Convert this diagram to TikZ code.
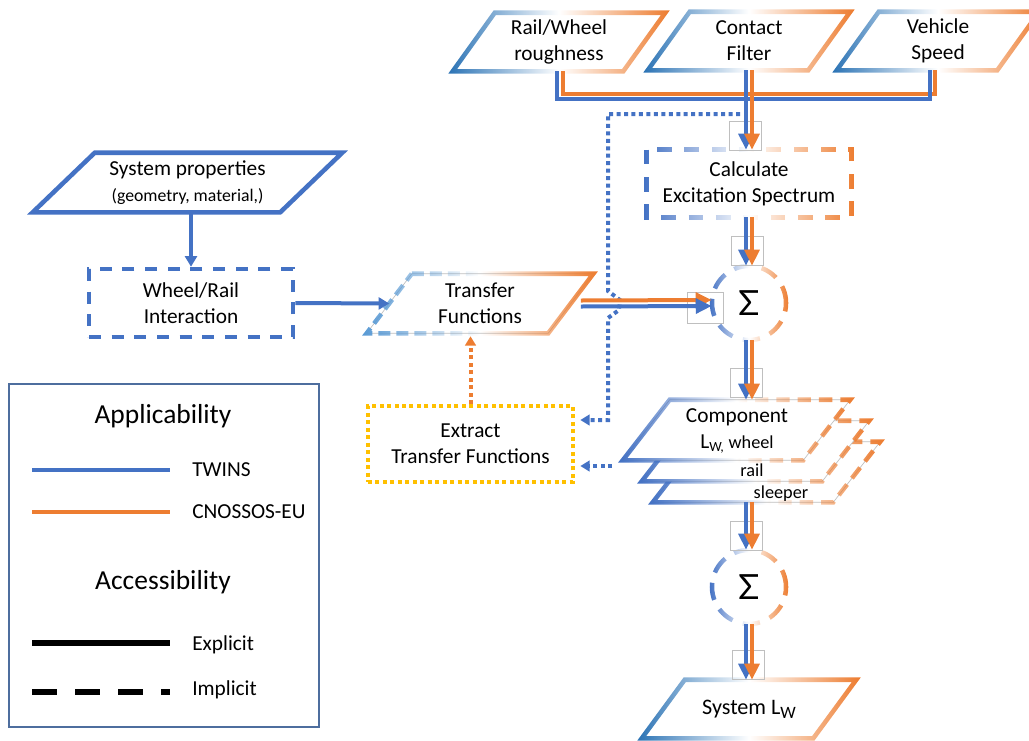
\documentclass[tikz,border=0pt]{standalone}
\usepackage{fontspec}
\setmainfont{Carlito}
\newfontfamily\sigmafont{Lato}
\usetikzlibrary{arrows.meta,fadings}

\definecolor{twblue}{HTML}{4472C4}
\definecolor{inblue}{HTML}{2E75B6}
\definecolor{lightblue}{HTML}{5B9BD5}
\definecolor{cnorange}{HTML}{ED7D31}
\definecolor{golddot}{HTML}{FFC000}
\definecolor{legframe}{HTML}{4E6E9E}
\definecolor{tipgrey}{HTML}{BFBFBF}

\tikzfading[name=keepwest, left color=transparent!0, right color=transparent!100, middle color=transparent!100]
\tikzfading[name=keepeast, left color=transparent!100, right color=transparent!0, middle color=transparent!100]

% slanted frame round a node: node, half skew, style
\newcommand\slantframe[3]{\draw[#3] ([xshift=#2]#1.north west) -- ([xshift=#2]#1.north east) -- ([xshift=-#2]#1.south east) -- ([xshift=-#2]#1.south west) -- cycle;}
% blue and orange arrow side by side
\newcommand\duo[2]{%
  \draw[twline, -{Triangle[width=11pt,length=12pt]}] ([xshift=-2.25pt]#1) -- ([xshift=-2.25pt]#2);
  \draw[cnline, -{Triangle[width=11pt,length=12pt]}] ([xshift=2.25pt]#1) -- ([xshift=2.25pt]#2);}

\begin{document}
\begin{tikzpicture}[
  x=0.75pt, y=-0.75pt,
  txt/.style={font=\fontsize{16}{19.5}\selectfont, align=center, inner sep=0pt},
  slant/.style={txt, minimum height=43.5pt},
  westhalf/.style={line width=3.4pt, path fading=keepwest, fit fading=true},
  easthalf/.style={line width=3.4pt, path fading=keepeast, fit fading=true},
  calcdash/.style={dash pattern=on 11pt off 9.5pt},
  sumdash/.style={dash pattern=on 13pt off 8pt},
  tfdash/.style={dash pattern=on 9pt off 4.5pt},
  compdash/.style={dash pattern=on 10pt off 6pt},
  twline/.style={twblue, line width=3pt},
  cnline/.style={cnorange, line width=3pt},
  twdot/.style={twblue, line width=3pt, dash pattern=on 3pt off 2.6pt},
  cndot/.style={cnorange, line width=3pt, dash pattern=on 3pt off 2.6pt},
  sumnode/.style={circle, minimum size=55.5pt, inner sep=0pt, font=\sigmafont\fontsize{26}{26}\selectfont},
  tipbox/.style={draw=tipgrey, line width=0.6pt, minimum width=24pt, minimum height=21.75pt, inner sep=0pt},
  legtext/.style={txt, anchor=west},
  legtitle/.style={txt, font=\fontsize{20.6}{24}\selectfont},
]
\useasboundingbox (0,0) rectangle (1029,740);

\node[slant, minimum width=127.5pt] (rough) at (559,42) {Rail/Wheel\\roughness};
\node[slant, minimum width=120pt] (contact) at (749,41) {Contact\\Filter};
\node[slant, minimum width=120pt] (speed) at (938,41) {Vehicle\\Speed};
\slantframe{rough}{15.75pt}{westhalf, inblue}
\slantframe{rough}{15.75pt}{easthalf, cnorange}
\slantframe{contact}{15.75pt}{westhalf, inblue}
\slantframe{contact}{15.75pt}{easthalf, cnorange}
\slantframe{speed}{15.75pt}{westhalf, inblue}
\slantframe{speed}{15.75pt}{easthalf, cnorange}

\node[txt, minimum width=153pt, minimum height=50.25pt] (calc) at (749,183.5) {Calculate\\Excitation Spectrum};
\draw[westhalf, twblue, calcdash] (calc.north west) rectangle (calc.south east);
\draw[easthalf, cnorange, calcdash] (calc.north west) rectangle (calc.south east);

\node[sumnode] (sum1) at (749,303) {Σ};
\draw[westhalf, twblue, sumdash] (sum1.center) circle[radius=27.75pt];
\draw[easthalf, cnorange, sumdash] (sum1.center) circle[radius=27.75pt];

\node[sumnode] (sum2) at (749,587) {Σ};
\draw[westhalf, twblue, sumdash] (sum2.center) circle[radius=27.75pt];
\draw[easthalf, cnorange, sumdash] (sum2.center) circle[radius=27.75pt];

\node[txt, minimum width=185.25pt, minimum height=44.25pt] (sysprop) at (187.5,182.5) {System properties\\{\fontsize{13.3}{14}\selectfont (geometry, material,)}};
\slantframe{sysprop}{23.25pt}{twblue, line width=3.4pt}

\node[txt, draw=twblue, line width=3.4pt, dash pattern=on 9pt off 8pt, minimum width=153pt, minimum height=51pt] (wr) at (191,303) {Wheel/Rail\\Interaction};

\node[txt, minimum width=135.75pt, minimum height=44.25pt] (tf) at (480,303.5) {Transfer\\Functions};
\slantframe{tf}{16.9pt}{draw=tipgrey, line width=0.5pt}
\slantframe{tf}{16.9pt}{westhalf, lightblue, tfdash}
\slantframe{tf}{16.9pt}{easthalf, cnorange}

\node[txt, draw=golddot, line width=3pt, dash pattern=on 3pt off 2.6pt, minimum width=153.75pt, minimum height=57pt] (extract) at (470.5,444) {Extract\\Transfer Functions};

\node[txt, minimum width=135pt, minimum height=45pt] (comp3) at (766.5,472) {};
\node[txt, minimum width=135pt, minimum height=45pt] (comp2) at (755.5,451) {};
\node[txt, minimum width=135pt, minimum height=45pt] (comp1) at (736.5,430) {};
\slantframe{comp3}{17.6pt}{fill=white, draw=tipgrey, line width=0.5pt}
\slantframe{comp3}{17.6pt}{westhalf, twblue}
\slantframe{comp3}{17.6pt}{easthalf, cnorange, compdash}
\slantframe{comp2}{17.6pt}{fill=white, draw=tipgrey, line width=0.5pt}
\slantframe{comp2}{17.6pt}{westhalf, twblue}
\slantframe{comp2}{17.6pt}{easthalf, cnorange, compdash}
\slantframe{comp1}{17.6pt}{fill=white, draw=tipgrey, line width=0.5pt}
\slantframe{comp1}{17.6pt}{westhalf, twblue}
\slantframe{comp1}{17.6pt}{easthalf, cnorange, compdash}
\node[txt] (comptext) at (737,431) {Component\\L{\raisebox{-0.3ex}{\fontsize{10.5}{11}\selectfont W,}} {\fontsize{13.7}{16}\selectfont wheel}};
\node[txt, font=\fontsize{13.7}{16}\selectfont] (raillab) at (752,470) {rail};
\node[txt, font=\fontsize{13.7}{16}\selectfont] (sleeperlab) at (781,494) {sleeper};

\node[slant, minimum width=128.25pt, font=\fontsize{16.6}{19.5}\selectfont] (syslw) at (749,709) {System L\raisebox{-0.4ex}{\fontsize{13}{13}\selectfont W}};
\slantframe{syslw}{16.1pt}{westhalf, inblue}
\slantframe{syslw}{16.1pt}{easthalf, cnorange}

\node[tipbox] (tb1) at (745,136) {};
\node[tipbox] (tb2) at (747,251) {};
\node[tipbox, minimum width=27pt, minimum height=23.25pt] (tb3) at (705,307.5) {};
\node[tipbox] (tb4) at (746.5,382.5) {};
\node[tipbox] (tb5) at (746,536) {};
\node[tipbox] (tb6) at (748,665) {};

\coordinate (tap) at (740,114);
\coordinate (compleft) at (612,466);
\coordinate (exin) at (extract.east |- compleft);
\coordinate (tfin) at (extract.north |- tf.south);
\coordinate (compin) at (sum1.south |- comp1.north);
\coordinate (compout) at (sum1.south |- comp3.south);

\draw[twdot, -{Triangle[width=8pt,length=7pt]}] (tap) -| (608,291) -- (620,300) -- (619,310) -- (608,318) |- ([xshift=4pt,yshift=18pt]extract.east);
\draw[twdot, -{Triangle[width=8pt,length=7pt]}] (compleft) -- ([xshift=4pt]exin);
\draw[cndot, -{Triangle[width=8pt,length=7pt]}] (extract.north) -- ([yshift=-2.25pt]tfin);

\draw[cnline] ([xshift=3pt]rough.south) -- ++(0,23) -| ([xshift=-2.25pt]speed.south);
\draw[twline] ([xshift=-1.5pt]rough.south) -- ++(0,28) -| ([xshift=-6pt]speed.south);
\duo{contact.south}{calc.north}
\duo{calc.south}{sum1.north}
\duo{sum1.south}{compin}
\duo{compout}{sum2.north}
\duo{sum2.south}{syslw.north}
\draw[cnline, -{Triangle[width=11pt,length=12pt]}] ([xshift=7.5pt,yshift=2.25pt]tf.east) -- ([yshift=2.25pt]sum1.west);
\draw[twline, -{Triangle[width=11pt,length=12pt]}] ([xshift=7.5pt,yshift=-2.25pt]tf.east) -- ([yshift=-2.25pt]sum1.west);

\draw[twline, -{Triangle[width=9pt,length=8pt]}] (sysprop.south -| wr.north) -- (wr.north);
\draw[twline, -{Triangle[width=9pt,length=8pt]}] (wr.east) -- (tf.west);

\node[draw=legframe, line width=1.1pt, minimum width=232.5pt, minimum height=257.25pt, inner sep=0pt] (legend) at (164,555.5) {};
\node[legtitle] (applic) at (163,416) {Applicability};
\node[legtitle] (access) at (163,582) {Accessibility};
\draw[twblue, line width=3.5pt] (32,470) -- (170,470);
\draw[cnorange, line width=3.5pt] (32,512) -- (170,512);
\draw[black, line width=4.2pt] (32,643) -- (170,643);
\draw[black, line width=4.2pt, dash pattern=on 18.75pt off 13.5pt] (32,692) -- (170,692);
\node[legtext] (twins) at (192,470) {TWINS};
\node[legtext] (cnossos) at (192,512) {CNOSSOS-EU};
\node[legtext] (explicit) at (192,645) {Explicit};
\node[legtext] (implicit) at (192,690) {Implicit};
\end{tikzpicture}
\end{document}
